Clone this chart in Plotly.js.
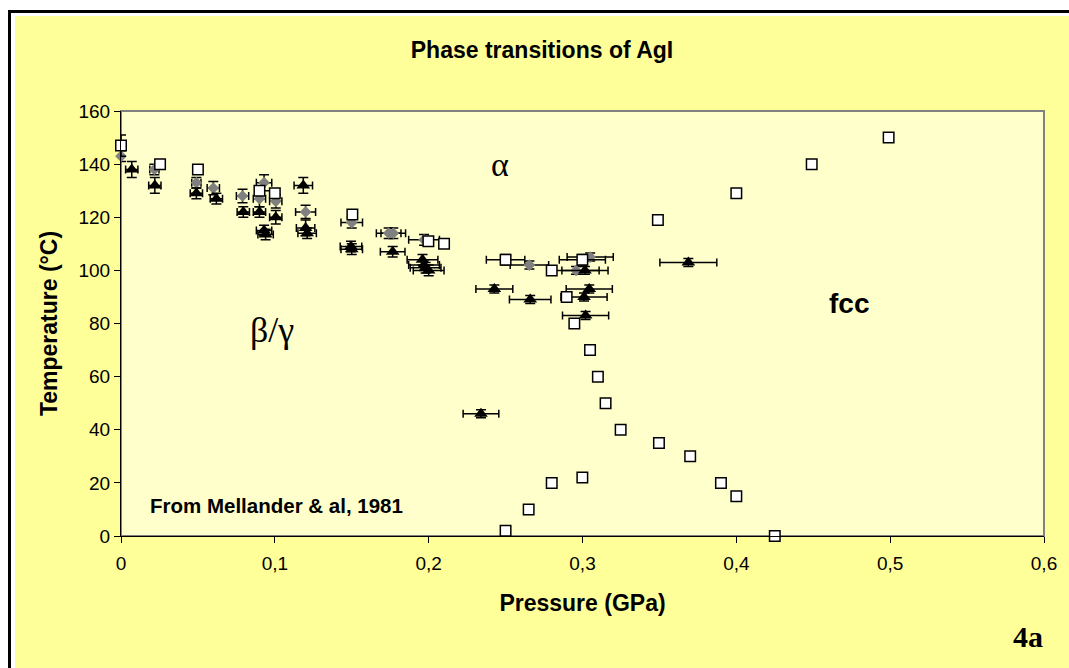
<!DOCTYPE html>
<html>
<head>
<meta charset="utf-8">
<script src="https://cdn.plot.ly/plotly-3.0.1.min.js"></script>
<style>
  html, body { margin: 0; padding: 0; background: #ffffff; width: 1069px; height: 668px; overflow: hidden; }
  #frame { position: absolute; left: 8px; top: 10px; width: 1100px; height: 700px; border: 3px solid #000; background: #fff; }
  #chart { position: absolute; left: 15px; top: 16px; width: 1054px; height: 652px; }
</style>
</head>
<body>
<div id="frame"></div>
<div id="chart"></div>
<script>
// ---- Data ----
// Grey diamonds
const diamondP    = [0.000, 0.0217, 0.049, 0.060, 0.079, 0.093, 0.090, 0.1006, 0.120, 0.150, 0.174, 0.177, 0.197, 0.2655, 0.2958, 0.305];
const diamondT    = [143,   138,    133,   131,   128,   133,   127,   126,    122,   118,   114,   114,   111.5, 102,    100,    105];
const diamondPErr = [0.000, 0.003,  0.003, 0.004, 0.004, 0.005, 0.004, 0.004,  0.0065,0.007, 0.008, 0.008, 0.010, 0.0125, 0.015,  0.015];
const diamondTErr = [2,     2,      2,     2.5,   2.5,   3,     3,     2.5,    2.5,   2,     2,     2,     2,     1.5,    1.5,    1.5];

// Black triangles
const triP    = [0.007, 0.022, 0.049, 0.062, 0.0795, 0.090, 0.093, 0.094, 0.1006, 0.1185, 0.120, 0.121, 0.1495, 0.150, 0.1766, 0.196, 0.197, 0.198, 0.200, 0.2427, 0.266, 0.3016, 0.3044, 0.301, 0.302, 0.3688, 0.234];
const triT    = [138,   132,   129,   127,   122,    122,   115,   113.5, 120,    132,    116,   114,   109,    108,   107,    104,   102,   101,   100,   93,     89,    100,    93,     90,    83,    103,    46];
const triPErr = [0.004, 0.004, 0.004, 0.004, 0.004,  0.004, 0.005, 0.005, 0.004,  0.006,  0.006, 0.006, 0.007,  0.007, 0.008,  0.010, 0.010, 0.010, 0.010, 0.012,  0.0135,0.015,  0.015,  0.015, 0.015, 0.0185, 0.0116];
const triTErr = [3,     3,     2,     2,     2,      2,     2,     2,     2.5,    3,      3,     2,     2,      2,     2,      2,     2,     2,     2,     1.5,    1.5,   1.5,    1.5,    1.5,   1.5,   1.5,    1.5];

// White squares with error bars
const sqErrP    = [0.000, 0.250, 0.2999];
const sqErrT    = [147,   104,   104];
const sqErrPErr = [0.000, 0.0125, 0.015];
const sqErrTErr = [4,     2,     2];

// White squares (fcc boundary and other points)
const sqP = [0.0254, 0.050, 0.090, 0.100, 0.1504, 0.1998, 0.210, 0.280, 0.2897, 0.2947, 0.3049, 0.310, 0.315, 0.3248, 0.3497, 0.370, 0.390, 0.400, 0.425, 0.280, 0.2999, 0.265, 0.250, 0.349, 0.400, 0.449, 0.499];
const sqT = [140,    138,   130,   129,   121,    111,    110,   100,   90,     80,     70,     60,    50,    40,     35,     30,    20,    15,    0,     20,    22,     10,    2,     119,   129,   140,   150];

// Axis ticks
const xTicks = [0, 0.1, 0.2, 0.3, 0.4, 0.5, 0.6];
const yTicks = [0, 20, 40, 60, 80, 100, 120, 140, 160];

const SANS = 'Liberation Sans, Arial, sans-serif';
const SERIF = 'Liberation Serif, Times New Roman, serif';

function errStyle(arr, w) {
  return { type: 'data', array: arr, visible: true, color: '#000000', thickness: 1.5, width: w };
}

const traces = [
  {
    name: 'diamonds', x: diamondP, y: diamondT, mode: 'markers', type: 'scatter', cliponaxis: false,
    marker: { symbol: 'diamond', size: 9, color: '#808080', line: { width: 0 } },
    error_x: errStyle(diamondPErr, 4), error_y: errStyle(diamondTErr, 5)
  },
  {
    name: 'triangles', x: triP, y: triT, mode: 'markers', type: 'scatter', cliponaxis: false,
    marker: { symbol: 'triangle-up', size: 12, color: '#000000', line: { width: 0 } },
    error_x: errStyle(triPErr, 4), error_y: errStyle(triTErr, 5)
  },
  {
    name: 'squares with errors', x: sqErrP, y: sqErrT, mode: 'markers', type: 'scatter', cliponaxis: false,
    marker: { symbol: 'square', size: 10.5, color: '#ffffff', line: { width: 1.5, color: '#000000' } },
    error_x: errStyle(sqErrPErr, 4), error_y: errStyle(sqErrTErr, 5)
  },
  {
    name: 'squares', x: sqP, y: sqT, mode: 'markers', type: 'scatter', cliponaxis: false,
    marker: { symbol: 'square', size: 10.5, color: '#ffffff', line: { width: 1.5, color: '#000000' } }
  }
];

const layout = {
  width: 1054, height: 652,
  margin: { l: 106, r: 25, t: 95, b: 132, pad: 0 },
  paper_bgcolor: '#FFFF99',
  plot_bgcolor: '#FFFFCC',
  showlegend: false,
  separators: ', ',
  font: { family: SANS, size: 20, color: '#000000' },
  title: {
    text: 'Phase transitions of AgI',
    font: { family: SANS, size: 23, weight: 700, color: '#000000' },
    xref: 'container', x: 0.5, xanchor: 'center',
    yref: 'container', y: 0.948, yanchor: 'middle'
  },
  xaxis: {
    range: [0, 0.6], tickvals: xTicks, ticks: 'outside', ticklen: 6, tickwidth: 1, tickcolor: '#000',
    showline: true, linecolor: '#000', linewidth: 1, mirror: false, showgrid: false, zeroline: false,
    tickfont: { family: SANS, size: 19 }, ticklabelstandoff: 4,
    title: { text: 'Pressure (GPa)', font: { family: SANS, size: 23, weight: 700 }, standoff: 22 }
  },
  yaxis: {
    range: [0, 160], tickvals: yTicks, ticks: 'outside', ticklen: 6, tickwidth: 1, tickcolor: '#000',
    showline: true, linecolor: '#000', linewidth: 1, mirror: false, showgrid: false, zeroline: false,
    tickfont: { family: SANS, size: 19 },
    title: { text: 'Temperature (°C)', font: { family: SANS, size: 23, weight: 700 }, standoff: 14 }
  },
  shapes: [
    { type: 'rect', xref: 'paper', yref: 'paper', x0: 0, x1: 1, y0: 0, y1: 1,
      line: { color: '#808080', width: 2 }, fillcolor: 'rgba(0,0,0,0)', layer: 'below' }
  ],
  annotations: [
    { text: 'From Mellander &amp; al, 1981', x: 0.0175, y: 11.3, xref: 'x', yref: 'y', xanchor: 'left', yanchor: 'middle',
      showarrow: false, font: { family: SANS, size: 20.5, weight: 700 } },
    { text: 'α', x: 0.2464, y: 139.7, xref: 'x', yref: 'y', xanchor: 'center', yanchor: 'middle', showarrow: false, font: { family: SERIF, size: 34 } },
    { text: 'β/γ', x: 0.098, y: 77.6, xref: 'x', yref: 'y', xanchor: 'center', yanchor: 'middle', showarrow: false, font: { family: SERIF, size: 36 } },
    { text: 'fcc', x: 0.473, y: 87.7, xref: 'x', yref: 'y', xanchor: 'center', yanchor: 'middle', showarrow: false, font: { family: SANS, size: 28, weight: 700 } },
    { text: '4a', x: 0.9827, y: -0.2376, xref: 'paper', yref: 'paper', xanchor: 'center', yanchor: 'middle', showarrow: false, font: { family: 'Liberation Serif, serif', size: 30, weight: 700 } }
  ]
};

Plotly.newPlot('chart', traces, layout, { displayModeBar: false, staticPlot: true });
</script>
</body>
</html>
